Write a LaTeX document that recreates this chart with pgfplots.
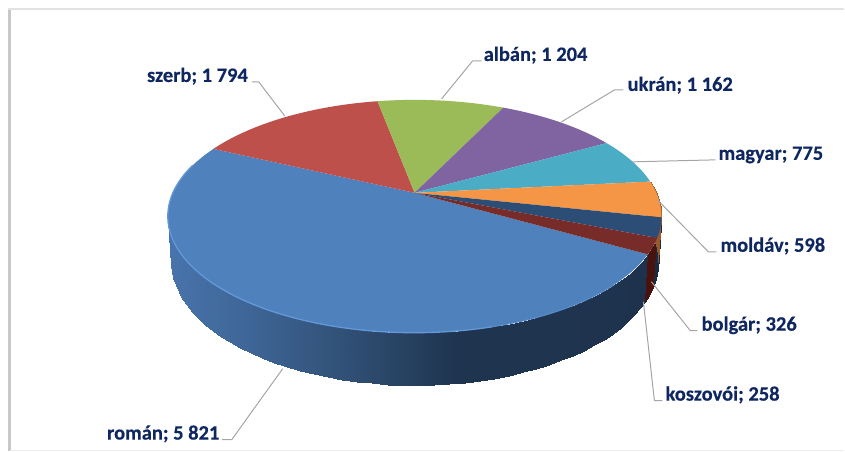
\documentclass[border=0pt]{standalone}
\usepackage{pgfplots}
\usepackage{pgfplotstable}
\usepackage{fontspec}
\setmainfont[BoldFeatures={FakeBold=0.35}]{Carlito}
\pgfplotsset{compat=1.18}
\pgfplotstableread{
idx value
0 5821
1 1794
2 1204
3 1162
4 775
5 598
6 326
7 258
}\piedata
\definecolor{lab}{RGB}{15,39,97}
\definecolor{lead}{RGB}{165,165,165}
\definecolor{cBlue}{RGB}{79,129,189}
\definecolor{cRed}{RGB}{190,80,76}
\definecolor{cGreen}{RGB}{155,187,89}
\definecolor{cPurple}{RGB}{128,100,162}
\definecolor{cCyan}{RGB}{75,172,198}
\definecolor{cOrange}{RGB}{245,150,70}
\definecolor{cNavy}{RGB}{44,77,117}
\definecolor{cMaroon}{RGB}{119,44,42}
\newcommand{\getv}[2]{\pgfplotstablegetelem{#1}{value}\of\piedata\let#2\pgfplotsretval}
\getv{0}\vA \getv{1}\vB \getv{2}\vC \getv{3}\vD \getv{4}\vE \getv{5}\vF \getv{6}\vG \getv{7}\vH
\pgfmathsetmacro{\tot}{\vA+\vB+\vC+\vD+\vE+\vF+\vG+\vH}
\pgfmathsetmacro{\aB}{154.7}
\pgfmathsetmacro{\aC}{\aB-\vB/\tot*360}
\pgfmathsetmacro{\aD}{\aC-\vC/\tot*360}
\pgfmathsetmacro{\aE}{\aD-\vD/\tot*360}
\pgfmathsetmacro{\aF}{\aE-\vE/\tot*360}
\pgfmathsetmacro{\aG}{\aF-\vF/\tot*360}
\pgfmathsetmacro{\aH}{\aG-\vG/\tot*360}
\pgfmathsetmacro{\aI}{\aH-\vH/\tot*360}
\pgfmathsetmacro{\aJ}{\aB-360}
\def\CX{415}\def\RX{242.0}\def\RY{111.8}\def\KK{0.2017}\def\DD{43.5}
\newcommand{\rimx}[1]{\CX+\RX*cos(#1)/(1+\KK*sin(#1))}
\newcommand{\rimy}[1]{193-\RY*sin(#1)/(1+\KK*sin(#1))}
\newcommand{\slicetop}[3]{%
 \addplot[fill=#3,draw=none,domain=#2:#1,samples=40,variable=\t]
   ({\rimx{\t}},{\rimy{\t}}) -- (axis cs:\CX,193) -- cycle;}
\newcommand{\sidesurf}[3]{%
 \addplot3[surf,shader=interp,#3,domain=#2:#1,y domain=0:1,samples=60,samples y=2]
  ({\CX+(1-0.013*y)*\RX*cos(x)/(1+\KK*sin(x))},
   {193-(1-0.013*y)*\RY*sin(x)/(1+\KK*sin(x))+y*\DD/(1+\KK*sin(x))},{0});}
\newcommand{\leader}[1]{\addplot[lead,line width=1pt,sharp plot] coordinates {#1};}
\newcommand{\lbl}[3]{\node[anchor=base west,inner sep=0pt,text=lab,font=\fontsize{20.5}{23}\selectfont\bfseries] at (axis cs:#1,#2) {#3};}
\begin{document}
\begin{tikzpicture}
\begin{axis}[at={(0pt,0pt)},anchor=south west,scale only axis,width=845pt,height=452pt,
  hide axis,clip=false,view={0}{90},xmin=0,xmax=845,ymin=0,ymax=452,zmin=-1,zmax=1,y dir=reverse,
  point meta min=170,point meta max=650]
\sidesurf{\aI}{\aJ}{point meta=x,colormap={sb}{rgb255=(72,116,172) rgb255=(60,98,145) rgb255=(46,76,112) rgb255=(31,52,79) rgb255=(31,52,79) rgb255=(30,50,76)}}
\sidesurf{\aH}{\aI}{point meta=x,colormap={sr}{rgb255=(72,18,14) rgb255=(72,18,14)}}
\sidesurf{\aG}{\aH}{point meta=x,colormap={sn}{rgb255=(26,44,68) rgb255=(26,44,68)}}
\sidesurf{\aF}{\aG}{point meta=x,colormap={so}{rgb255=(150,90,44) rgb255=(150,90,44)}}
\end{axis}
\begin{axis}[at={(0pt,0pt)},anchor=south west,scale only axis,width=845pt,height=452pt,
  hide axis,clip=false,xmin=0,xmax=845,ymin=0,ymax=452,y dir=reverse]
\path (axis cs:0,0) rectangle (axis cs:845,452);
% frame
\addplot[color={rgb,255:red,200;green,200;blue,200},line width=2.6pt] coordinates {(9.5,8) (9.5,451)};
\addplot[color={rgb,255:red,226;green,226;blue,226},line width=1.6pt] coordinates {(8,9) (845,9)};
\addplot[color={rgb,255:red,238;green,238;blue,238},line width=1.4pt] coordinates {(10,451) (845,451)};
% top faces
\slicetop{\aJ}{\aI}{cBlue}
\slicetop{\aC}{\aB}{cRed}
\slicetop{\aD}{\aC}{cGreen}
\slicetop{\aE}{\aD}{cPurple}
\slicetop{\aF}{\aE}{cCyan}
\slicetop{\aG}{\aF}{cOrange}
\slicetop{\aH}{\aG}{cNavy}
\slicetop{\aI}{\aH}{cMaroon}
% rim highlight
\addplot[color={rgb,255:red,100;green,152;blue,216},line width=1.3pt,domain=-195:-75,samples=50,variable=\t] ({\rimx{\t}},{\rimy{\t}});
\addplot[color={rgb,255:red,88;green,138;blue,198},line width=1.0pt,domain=-75:-45,samples=20,variable=\t] ({\rimx{\t}},{\rimy{\t}});
% leaders
\leader{(285,116) (259,82) (252,82)}
\leader{(442,99) (473,61) (482,61)}
\leader{(562,122) (615,90) (624,90)}
\leader{(633,162) (716,160)}
\leader{(658,200) (709,252) (717,252)}
\leader{(652,282) (691,331) (698,331)}
\leader{(644,302) (655,401) (663,401)}
\leader{(283,369) (232,440) (222,440)}
% labels
\lbl{107}{440}{román; 5 821}
\lbl{147}{82}{szerb; 1 794}
\lbl{484}{61}{albán; 1 204}
\lbl{628}{91}{ukrán; 1 162}
\lbl{719}{160}{magyar; 775}
\lbl{721}{252}{moldáv; 598}
\lbl{702}{331}{bolgár; 326}
\lbl{666}{401}{koszovói; 258}
\end{axis}
\end{tikzpicture}
\end{document}
